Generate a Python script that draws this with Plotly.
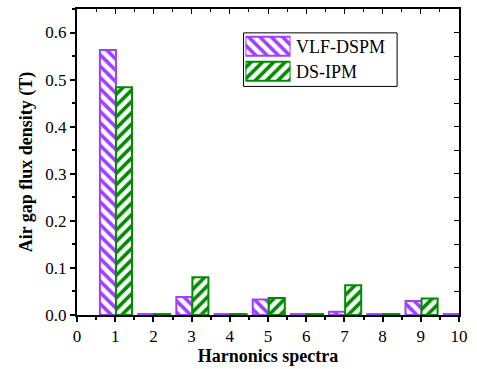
import plotly.graph_objects as go

# Harmonic orders and air-gap flux density amplitudes (T)
harmonics = [1, 2, 3, 4, 5, 6, 7, 8, 9, 10]
vlf_dspm = [0.563, 0.002, 0.038, 0.002, 0.033, 0.002, 0.007, 0.002, 0.030, 0.002]
ds_ipm = [0.484, 0.002, 0.080, 0.002, 0.036, 0.002, 0.063, 0.002, 0.035, 0.002]
series_names = ["VLF-DSPM", "DS-IPM"]

PURPLE = "#a040ff"
GREEN = "#008c00"
FONT = "Liberation Serif, Times New Roman, serif"


def hatch(col, shp):
    return dict(color="white", line=dict(color=col, width=2),
                pattern=dict(shape=shp, fgcolor=col, bgcolor="white",
                             fgopacity=1, size=8, solidity=0.45))


fig = go.Figure()

bar_w = 0.42
fig.add_trace(go.Bar(
    x=harmonics, y=vlf_dspm, width=bar_w, offset=-bar_w + 0.02,
    name=series_names[0], marker=hatch(PURPLE, "\\"), showlegend=False,
))
fig.add_trace(go.Bar(
    x=harmonics, y=ds_ipm, width=bar_w, offset=0.02,
    name=series_names[1], marker=hatch(GREEN, "/"), showlegend=False,
))

# Legend swatches drawn as patterned bars on a small inset axis
for row, (col, shp) in enumerate([(PURPLE, "\\"), (GREEN, "/")]):
    fig.add_trace(go.Bar(
        x=[1], y=[1 - row], orientation="h", width=0.76,
        xaxis="x2", yaxis="y2", showlegend=False, hoverinfo="skip",
        marker=hatch(col, shp),
    ))

# Empty trace so the mirrored top/right axes with inward ticks are drawn
fig.add_trace(go.Scatter(x=[None], y=[None], xaxis="x3", yaxis="y3",
                         showlegend=False, hoverinfo="skip"))

tickfont = dict(family=FONT, size=17, color="black")
titlefont = dict(family=FONT, size=18, color="black", weight="bold")

fig.update_layout(
    width=477, height=369,
    margin=dict(l=77, r=10, t=9, b=52),
    paper_bgcolor="white", plot_bgcolor="white",
    barmode="overlay",
    font=dict(family=FONT),
    xaxis=dict(
        range=[0, 10], tickmode="linear", tick0=0, dtick=1,
        ticks="outside", ticklen=5, tickwidth=1.5, tickcolor="black",
        minor=dict(ticks="outside", dtick=0.5, ticklen=3, tickcolor="black"),
        showline=True, linecolor="black", linewidth=2,
        showgrid=False, zeroline=False, tickfont=tickfont,
        title=dict(text="Harnonics spectra", font=titlefont, standoff=1),
    ),
    yaxis=dict(
        range=[0, 0.65], tickmode="linear", tick0=0, dtick=0.1,
        tickformat=".1f",
        ticks="outside", ticklen=5, tickwidth=1.5, tickcolor="black",
        minor=dict(ticks="outside", dtick=0.05, ticklen=3, tickcolor="black"),
        showline=True, linecolor="black", linewidth=2,
        showgrid=False, zeroline=False, tickfont=tickfont,
        title=dict(text="Air gap flux density (T)", font=titlefont, standoff=8),
    ),
    xaxis3=dict(
        overlaying="x", side="top", anchor="y3", range=[0, 10],
        tickmode="linear", tick0=0, dtick=1, ticks="inside", ticklen=5,
        tickcolor="black",
        minor=dict(ticks="inside", dtick=0.5, ticklen=3, tickcolor="black"),
        showticklabels=False, showline=True, linecolor="black", linewidth=1.5,
        showgrid=False, zeroline=False,
    ),
    yaxis3=dict(
        overlaying="y", side="right", anchor="x3", range=[0, 0.65],
        tickmode="linear", tick0=0, dtick=0.05, ticks="inside", ticklen=5,
        tickcolor="black",
        showticklabels=False, showline=True, linecolor="black", linewidth=1.5,
        showgrid=False, zeroline=False,
    ),
    xaxis2=dict(domain=[0.441, 0.559], range=[0, 1], visible=False,
                anchor="y2", fixedrange=True),
    yaxis2=dict(domain=[0.756, 0.919], range=[-0.5, 1.5], visible=False,
                anchor="x2", fixedrange=True),
    shapes=[dict(type="rect", xref="paper", yref="paper",
                 x0=0.436, x1=0.838, y0=0.747, y1=0.922,
                 line=dict(color="black", width=1), fillcolor="rgba(0,0,0,0)")],
    annotations=[
        dict(text=series_names[0], xref="paper", yref="paper",
             x=0.567, y=0.877, xanchor="left", yanchor="middle",
             showarrow=False, font=dict(family=FONT, size=18, color="black")),
        dict(text=series_names[1], xref="paper", yref="paper",
             x=0.567, y=0.795, xanchor="left", yanchor="middle",
             showarrow=False, font=dict(family=FONT, size=18, color="black")),
    ],
)

fig.write_html("out.html")
